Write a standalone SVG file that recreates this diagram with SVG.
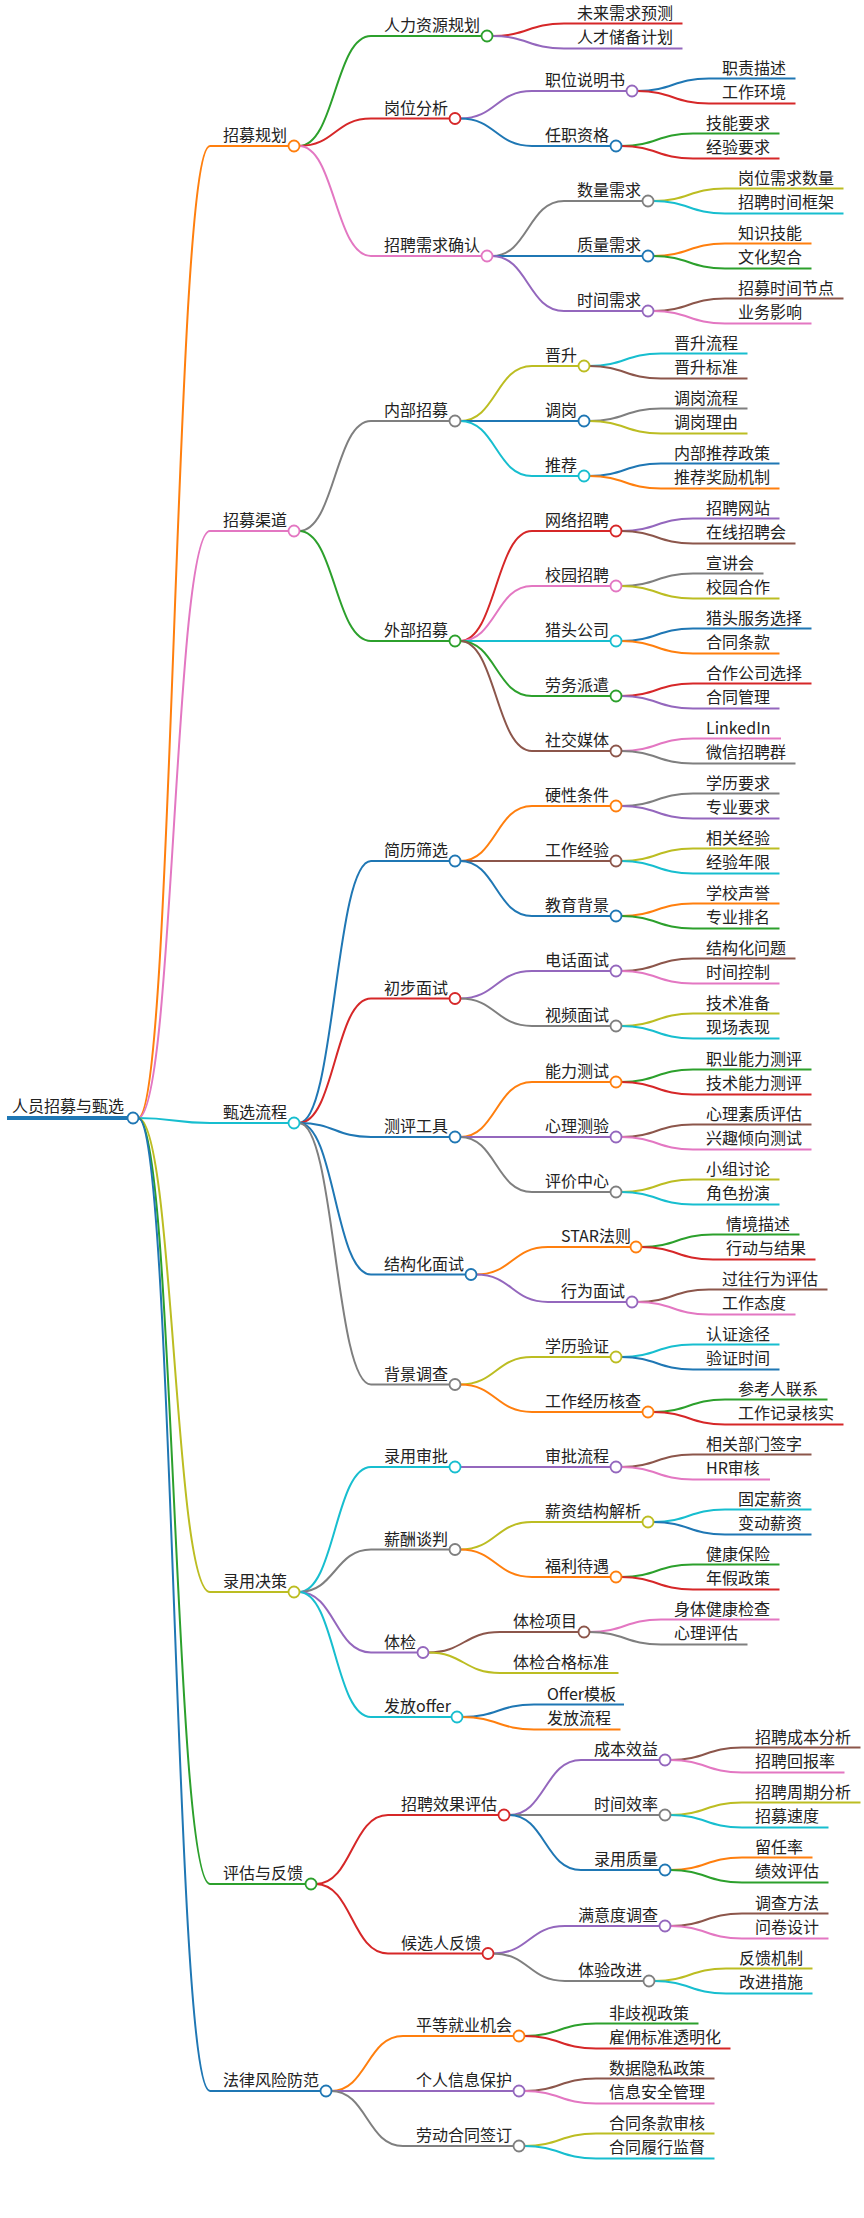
<svg xmlns="http://www.w3.org/2000/svg" width="864" height="2218" viewBox="0 0 864 2218">
<style>
path{fill:none;stroke-width:2}
circle{fill:#fff;stroke-width:1.8}
text{font-family:"Noto Sans CJK SC","Liberation Sans",sans-serif;font-size:16px;fill:#222}
.o{stroke:#ff7f0e}.g{stroke:#2ca02c}.r{stroke:#d62728}.p{stroke:#9467bd}.b{stroke:#8c564b}.k{stroke:#e377c2}.y{stroke:#7f7f7f}.l{stroke:#bcbd22}.c{stroke:#17becf}.u{stroke:#1f77b4}
</style>
<rect width="864" height="2218" fill="#fff"/>
<g id="connectors">
<path class="u" d="M7 1118H127" style="stroke-width:4"/>
<path class="o" d="M138 1118C174 1118 174 146 210 146H288"/>
<path class="k" d="M138 1118C174 1118 174 531 210 531H288"/>
<path class="c" d="M138 1118C174 1118 174 1123 210 1123H288"/>
<path class="l" d="M138 1118C174 1118 174 1592 210 1592H288"/>
<path class="g" d="M138 1118C174 1118 174 1884 210 1884H305"/>
<path class="u" d="M138 1118C174 1118 174 2091 210 2091H320"/>
<path class="g" d="M299 146C335 146 335 36 371 36H481"/>
<path class="r" d="M299 146C335 146 335 118.5 371 118.5H449"/>
<path class="k" d="M299 146C335 146 335 256 371 256H481"/>
<path class="r" d="M492 36C528 36 528 23.6 564 23.6H682.5"/>
<path class="p" d="M492 36C528 36 528 48.4 564 48.4H682.5"/>
<path class="p" d="M460 118.5C496 118.5 496 91 532 91H626"/>
<path class="u" d="M460 118.5C496 118.5 496 146 532 146H610"/>
<path class="u" d="M637 91C673 91 673 78.6 709 78.6H795.5"/>
<path class="r" d="M637 91C673 91 673 103.4 709 103.4H795.5"/>
<path class="g" d="M621 146C657 146 657 133.6 693 133.6H779.5"/>
<path class="r" d="M621 146C657 146 657 158.4 693 158.4H779.5"/>
<path class="y" d="M492 256C528 256 528 201 564 201H642"/>
<path class="u" d="M492 256C528 256 528 256 564 256H642"/>
<path class="p" d="M492 256C528 256 528 311 564 311H642"/>
<path class="l" d="M653 201C689 201 689 188.6 725 188.6H843.5"/>
<path class="c" d="M653 201C689 201 689 213.4 725 213.4H843.5"/>
<path class="o" d="M653 256C689 256 689 243.6 725 243.6H811.5"/>
<path class="g" d="M653 256C689 256 689 268.4 725 268.4H811.5"/>
<path class="b" d="M653 311C689 311 689 298.6 725 298.6H843.5"/>
<path class="k" d="M653 311C689 311 689 323.4 725 323.4H811.5"/>
<path class="y" d="M299 531C335 531 335 421 371 421H449"/>
<path class="g" d="M299 531C335 531 335 641 371 641H449"/>
<path class="l" d="M460 421C496 421 496 366 532 366H578"/>
<path class="u" d="M460 421C496 421 496 421 532 421H578"/>
<path class="c" d="M460 421C496 421 496 476 532 476H578"/>
<path class="c" d="M589 366C625 366 625 353.6 661 353.6H747.5"/>
<path class="b" d="M589 366C625 366 625 378.4 661 378.4H747.5"/>
<path class="y" d="M589 421C625 421 625 408.6 661 408.6H747.5"/>
<path class="l" d="M589 421C625 421 625 433.4 661 433.4H747.5"/>
<path class="u" d="M589 476C625 476 625 463.6 661 463.6H779.5"/>
<path class="o" d="M589 476C625 476 625 488.4 661 488.4H779.5"/>
<path class="r" d="M460 641C496 641 496 531 532 531H610"/>
<path class="k" d="M460 641C496 641 496 586 532 586H610"/>
<path class="c" d="M460 641C496 641 496 641 532 641H610"/>
<path class="g" d="M460 641C496 641 496 696 532 696H610"/>
<path class="b" d="M460 641C496 641 496 751 532 751H610"/>
<path class="p" d="M621 531C657 531 657 518.6 693 518.6H779.5"/>
<path class="b" d="M621 531C657 531 657 543.4 693 543.4H795.5"/>
<path class="y" d="M621 586C657 586 657 573.6 693 573.6H763.5"/>
<path class="l" d="M621 586C657 586 657 598.4 693 598.4H779.5"/>
<path class="u" d="M621 641C657 641 657 628.6 693 628.6H811.5"/>
<path class="o" d="M621 641C657 641 657 653.4 693 653.4H779.5"/>
<path class="r" d="M621 696C657 696 657 683.6 693 683.6H811.5"/>
<path class="p" d="M621 696C657 696 657 708.4 693 708.4H779.5"/>
<path class="k" d="M621 751C657 751 657 738.6 693 738.6H781"/>
<path class="y" d="M621 751C657 751 657 763.4 693 763.4H795.5"/>
<path class="u" d="M299 1123C335 1123 335 861 371 861H449"/>
<path class="r" d="M299 1123C335 1123 335 998.5 371 998.5H449"/>
<path class="u" d="M299 1123C335 1123 335 1137 371 1137H449"/>
<path class="u" d="M299 1123C335 1123 335 1274.5 371 1274.5H465"/>
<path class="y" d="M299 1123C335 1123 335 1384.5 371 1384.5H449"/>
<path class="o" d="M460 861C496 861 496 806 532 806H610"/>
<path class="b" d="M460 861C496 861 496 861 532 861H610"/>
<path class="u" d="M460 861C496 861 496 916 532 916H610"/>
<path class="y" d="M621 806C657 806 657 793.6 693 793.6H779.5"/>
<path class="p" d="M621 806C657 806 657 818.4 693 818.4H779.5"/>
<path class="l" d="M621 861C657 861 657 848.6 693 848.6H779.5"/>
<path class="c" d="M621 861C657 861 657 873.4 693 873.4H779.5"/>
<path class="o" d="M621 916C657 916 657 903.6 693 903.6H779.5"/>
<path class="g" d="M621 916C657 916 657 928.4 693 928.4H779.5"/>
<path class="p" d="M460 998.5C496 998.5 496 971 532 971H610"/>
<path class="y" d="M460 998.5C496 998.5 496 1026 532 1026H610"/>
<path class="b" d="M621 971C657 971 657 958.6 693 958.6H795.5"/>
<path class="k" d="M621 971C657 971 657 983.4 693 983.4H779.5"/>
<path class="l" d="M621 1026C657 1026 657 1013.6 693 1013.6H779.5"/>
<path class="c" d="M621 1026C657 1026 657 1038.4 693 1038.4H779.5"/>
<path class="o" d="M460 1137C496 1137 496 1082 532 1082H610"/>
<path class="p" d="M460 1137C496 1137 496 1137 532 1137H610"/>
<path class="y" d="M460 1137C496 1137 496 1192 532 1192H610"/>
<path class="g" d="M621 1082C657 1082 657 1069.6 693 1069.6H811.5"/>
<path class="r" d="M621 1082C657 1082 657 1094.4 693 1094.4H811.5"/>
<path class="b" d="M621 1137C657 1137 657 1124.6 693 1124.6H811.5"/>
<path class="k" d="M621 1137C657 1137 657 1149.4 693 1149.4H811.5"/>
<path class="l" d="M621 1192C657 1192 657 1179.6 693 1179.6H779.5"/>
<path class="c" d="M621 1192C657 1192 657 1204.4 693 1204.4H779.5"/>
<path class="o" d="M476 1274.5C512 1274.5 512 1247 548 1247H630"/>
<path class="p" d="M476 1274.5C512 1274.5 512 1302 548 1302H626"/>
<path class="g" d="M641 1247C677 1247 677 1234.6 713 1234.6H799.5"/>
<path class="r" d="M641 1247C677 1247 677 1259.4 713 1259.4H815.5"/>
<path class="b" d="M637 1302C673 1302 673 1289.6 709 1289.6H827.5"/>
<path class="k" d="M637 1302C673 1302 673 1314.4 709 1314.4H795.5"/>
<path class="l" d="M460 1384.5C496 1384.5 496 1357 532 1357H610"/>
<path class="o" d="M460 1384.5C496 1384.5 496 1412 532 1412H642"/>
<path class="c" d="M621 1357C657 1357 657 1344.6 693 1344.6H779.5"/>
<path class="u" d="M621 1357C657 1357 657 1369.4 693 1369.4H779.5"/>
<path class="g" d="M653 1412C689 1412 689 1399.6 725 1399.6H827.5"/>
<path class="r" d="M653 1412C689 1412 689 1424.4 725 1424.4H843.5"/>
<path class="c" d="M299 1592C335 1592 335 1467 371 1467H449"/>
<path class="y" d="M299 1592C335 1592 335 1549.5 371 1549.5H449"/>
<path class="p" d="M299 1592C335 1592 335 1652.5 371 1652.5H417"/>
<path class="c" d="M299 1592C335 1592 335 1717 371 1717H451"/>
<path class="p" d="M460 1467C496 1467 496 1467 532 1467H610"/>
<path class="b" d="M621 1467C657 1467 657 1454.6 693 1454.6H811.5"/>
<path class="k" d="M621 1467C657 1467 657 1479.4 693 1479.4H770"/>
<path class="l" d="M460 1549.5C496 1549.5 496 1522 532 1522H642"/>
<path class="o" d="M460 1549.5C496 1549.5 496 1577 532 1577H610"/>
<path class="c" d="M653 1522C689 1522 689 1509.6 725 1509.6H811.5"/>
<path class="u" d="M653 1522C689 1522 689 1534.4 725 1534.4H811.5"/>
<path class="g" d="M621 1577C657 1577 657 1564.6 693 1564.6H779.5"/>
<path class="r" d="M621 1577C657 1577 657 1589.4 693 1589.4H779.5"/>
<path class="b" d="M428 1652.5C464 1652.5 464 1632 500 1632H578"/>
<path class="l" d="M428 1652.5C464 1652.5 464 1673 500 1673H618.5"/>
<path class="k" d="M589 1632C625 1632 625 1619.6 661 1619.6H779.5"/>
<path class="y" d="M589 1632C625 1632 625 1644.4 661 1644.4H747.5"/>
<path class="u" d="M462 1717C498 1717 498 1704.6 534 1704.6H624"/>
<path class="o" d="M462 1717C498 1717 498 1729.4 534 1729.4H620.5"/>
<path class="r" d="M316 1884C352 1884 352 1815 388 1815H498"/>
<path class="r" d="M316 1884C352 1884 352 1953.5 388 1953.5H482"/>
<path class="p" d="M509 1815C545 1815 545 1760 581 1760H659"/>
<path class="y" d="M509 1815C545 1815 545 1815 581 1815H659"/>
<path class="u" d="M509 1815C545 1815 545 1870 581 1870H659"/>
<path class="b" d="M670 1760C706 1760 706 1747.6 742 1747.6H860.5"/>
<path class="k" d="M670 1760C706 1760 706 1772.4 742 1772.4H844.5"/>
<path class="l" d="M670 1815C706 1815 706 1802.6 742 1802.6H860.5"/>
<path class="c" d="M670 1815C706 1815 706 1827.4 742 1827.4H828.5"/>
<path class="o" d="M670 1870C706 1870 706 1857.6 742 1857.6H812.5"/>
<path class="g" d="M670 1870C706 1870 706 1882.4 742 1882.4H828.5"/>
<path class="p" d="M493 1953.5C529 1953.5 529 1926 565 1926H659"/>
<path class="y" d="M493 1953.5C529 1953.5 529 1981 565 1981H643"/>
<path class="b" d="M670 1926C706 1926 706 1913.6 742 1913.6H828.5"/>
<path class="k" d="M670 1926C706 1926 706 1938.4 742 1938.4H828.5"/>
<path class="l" d="M654 1981C690 1981 690 1968.6 726 1968.6H812.5"/>
<path class="c" d="M654 1981C690 1981 690 1993.4 726 1993.4H812.5"/>
<path class="o" d="M331 2091C367 2091 367 2036 403 2036H513"/>
<path class="p" d="M331 2091C367 2091 367 2091 403 2091H513"/>
<path class="y" d="M331 2091C367 2091 367 2146 403 2146H513"/>
<path class="g" d="M524 2036C560 2036 560 2023.6 596 2023.6H698.5"/>
<path class="r" d="M524 2036C560 2036 560 2048.4 596 2048.4H730.5"/>
<path class="b" d="M524 2091C560 2091 560 2078.6 596 2078.6H714.5"/>
<path class="k" d="M524 2091C560 2091 560 2103.4 596 2103.4H714.5"/>
<path class="l" d="M524 2146C560 2146 560 2133.6 596 2133.6H714.5"/>
<path class="c" d="M524 2146C560 2146 560 2158.4 596 2158.4H714.5"/>
</g>
<g id="n-root"><text x="12" y="1112">人员招募与甄选</text><circle class="u" cx="133" cy="1118" r="5.5"/></g>
<g id="n-A"><text x="223" y="141">招募规划</text><circle class="o" cx="294" cy="146" r="5.5"/></g>
<g id="n-A1"><text x="384" y="31">人力资源规划</text><circle class="g" cx="487" cy="36" r="5.5"/></g>
<g id="n-A1a"><text x="577" y="18.6">未来需求预测</text></g>
<g id="n-A1b"><text x="577" y="43.4">人才储备计划</text></g>
<g id="n-A2"><text x="384" y="113.5">岗位分析</text><circle class="r" cx="455" cy="118.5" r="5.5"/></g>
<g id="n-A2a"><text x="545" y="86">职位说明书</text><circle class="p" cx="632" cy="91" r="5.5"/></g>
<g id="n-A2a1"><text x="722" y="73.6">职责描述</text></g>
<g id="n-A2a2"><text x="722" y="98.4">工作环境</text></g>
<g id="n-A2b"><text x="545" y="141">任职资格</text><circle class="u" cx="616" cy="146" r="5.5"/></g>
<g id="n-A2b1"><text x="706" y="128.6">技能要求</text></g>
<g id="n-A2b2"><text x="706" y="153.4">经验要求</text></g>
<g id="n-A3"><text x="384" y="251">招聘需求确认</text><circle class="k" cx="487" cy="256" r="5.5"/></g>
<g id="n-A3a"><text x="577" y="196">数量需求</text><circle class="y" cx="648" cy="201" r="5.5"/></g>
<g id="n-A3a1"><text x="738" y="183.6">岗位需求数量</text></g>
<g id="n-A3a2"><text x="738" y="208.4">招聘时间框架</text></g>
<g id="n-A3b"><text x="577" y="251">质量需求</text><circle class="u" cx="648" cy="256" r="5.5"/></g>
<g id="n-A3b1"><text x="738" y="238.6">知识技能</text></g>
<g id="n-A3b2"><text x="738" y="263.4">文化契合</text></g>
<g id="n-A3c"><text x="577" y="306">时间需求</text><circle class="p" cx="648" cy="311" r="5.5"/></g>
<g id="n-A3c1"><text x="738" y="293.6">招募时间节点</text></g>
<g id="n-A3c2"><text x="738" y="318.4">业务影响</text></g>
<g id="n-B"><text x="223" y="526">招募渠道</text><circle class="k" cx="294" cy="531" r="5.5"/></g>
<g id="n-B1"><text x="384" y="416">内部招募</text><circle class="y" cx="455" cy="421" r="5.5"/></g>
<g id="n-B1a"><text x="545" y="361">晋升</text><circle class="l" cx="584" cy="366" r="5.5"/></g>
<g id="n-B1a1"><text x="674" y="348.6">晋升流程</text></g>
<g id="n-B1a2"><text x="674" y="373.4">晋升标准</text></g>
<g id="n-B1b"><text x="545" y="416">调岗</text><circle class="u" cx="584" cy="421" r="5.5"/></g>
<g id="n-B1b1"><text x="674" y="403.6">调岗流程</text></g>
<g id="n-B1b2"><text x="674" y="428.4">调岗理由</text></g>
<g id="n-B1c"><text x="545" y="471">推荐</text><circle class="c" cx="584" cy="476" r="5.5"/></g>
<g id="n-B1c1"><text x="674" y="458.6">内部推荐政策</text></g>
<g id="n-B1c2"><text x="674" y="483.4">推荐奖励机制</text></g>
<g id="n-B2"><text x="384" y="636">外部招募</text><circle class="g" cx="455" cy="641" r="5.5"/></g>
<g id="n-B2a"><text x="545" y="526">网络招聘</text><circle class="r" cx="616" cy="531" r="5.5"/></g>
<g id="n-B2a1"><text x="706" y="513.6">招聘网站</text></g>
<g id="n-B2a2"><text x="706" y="538.4">在线招聘会</text></g>
<g id="n-B2b"><text x="545" y="581">校园招聘</text><circle class="k" cx="616" cy="586" r="5.5"/></g>
<g id="n-B2b1"><text x="706" y="568.6">宣讲会</text></g>
<g id="n-B2b2"><text x="706" y="593.4">校园合作</text></g>
<g id="n-B2c"><text x="545" y="636">猎头公司</text><circle class="c" cx="616" cy="641" r="5.5"/></g>
<g id="n-B2c1"><text x="706" y="623.6">猎头服务选择</text></g>
<g id="n-B2c2"><text x="706" y="648.4">合同条款</text></g>
<g id="n-B2d"><text x="545" y="691">劳务派遣</text><circle class="g" cx="616" cy="696" r="5.5"/></g>
<g id="n-B2d1"><text x="706" y="678.6">合作公司选择</text></g>
<g id="n-B2d2"><text x="706" y="703.4">合同管理</text></g>
<g id="n-B2e"><text x="545" y="746">社交媒体</text><circle class="b" cx="616" cy="751" r="5.5"/></g>
<g id="n-B2e1"><text x="706" y="733.6">LinkedIn</text></g>
<g id="n-B2e2"><text x="706" y="758.4">微信招聘群</text></g>
<g id="n-C"><text x="223" y="1118">甄选流程</text><circle class="c" cx="294" cy="1123" r="5.5"/></g>
<g id="n-C1"><text x="384" y="856">简历筛选</text><circle class="u" cx="455" cy="861" r="5.5"/></g>
<g id="n-C1a"><text x="545" y="801">硬性条件</text><circle class="o" cx="616" cy="806" r="5.5"/></g>
<g id="n-C1a1"><text x="706" y="788.6">学历要求</text></g>
<g id="n-C1a2"><text x="706" y="813.4">专业要求</text></g>
<g id="n-C1b"><text x="545" y="856">工作经验</text><circle class="b" cx="616" cy="861" r="5.5"/></g>
<g id="n-C1b1"><text x="706" y="843.6">相关经验</text></g>
<g id="n-C1b2"><text x="706" y="868.4">经验年限</text></g>
<g id="n-C1c"><text x="545" y="911">教育背景</text><circle class="u" cx="616" cy="916" r="5.5"/></g>
<g id="n-C1c1"><text x="706" y="898.6">学校声誉</text></g>
<g id="n-C1c2"><text x="706" y="923.4">专业排名</text></g>
<g id="n-C2"><text x="384" y="993.5">初步面试</text><circle class="r" cx="455" cy="998.5" r="5.5"/></g>
<g id="n-C2a"><text x="545" y="966">电话面试</text><circle class="p" cx="616" cy="971" r="5.5"/></g>
<g id="n-C2a1"><text x="706" y="953.6">结构化问题</text></g>
<g id="n-C2a2"><text x="706" y="978.4">时间控制</text></g>
<g id="n-C2b"><text x="545" y="1021">视频面试</text><circle class="y" cx="616" cy="1026" r="5.5"/></g>
<g id="n-C2b1"><text x="706" y="1008.6">技术准备</text></g>
<g id="n-C2b2"><text x="706" y="1033.4">现场表现</text></g>
<g id="n-C3"><text x="384" y="1132">测评工具</text><circle class="u" cx="455" cy="1137" r="5.5"/></g>
<g id="n-C3a"><text x="545" y="1077">能力测试</text><circle class="o" cx="616" cy="1082" r="5.5"/></g>
<g id="n-C3a1"><text x="706" y="1064.6">职业能力测评</text></g>
<g id="n-C3a2"><text x="706" y="1089.4">技术能力测评</text></g>
<g id="n-C3b"><text x="545" y="1132">心理测验</text><circle class="p" cx="616" cy="1137" r="5.5"/></g>
<g id="n-C3b1"><text x="706" y="1119.6">心理素质评估</text></g>
<g id="n-C3b2"><text x="706" y="1144.4">兴趣倾向测试</text></g>
<g id="n-C3c"><text x="545" y="1187">评价中心</text><circle class="y" cx="616" cy="1192" r="5.5"/></g>
<g id="n-C3c1"><text x="706" y="1174.6">小组讨论</text></g>
<g id="n-C3c2"><text x="706" y="1199.4">角色扮演</text></g>
<g id="n-C4"><text x="384" y="1269.5">结构化面试</text><circle class="u" cx="471" cy="1274.5" r="5.5"/></g>
<g id="n-C4a"><text x="561" y="1242">STAR法则</text><circle class="o" cx="636" cy="1247" r="5.5"/></g>
<g id="n-C4a1"><text x="726" y="1229.6">情境描述</text></g>
<g id="n-C4a2"><text x="726" y="1254.4">行动与结果</text></g>
<g id="n-C4b"><text x="561" y="1297">行为面试</text><circle class="p" cx="632" cy="1302" r="5.5"/></g>
<g id="n-C4b1"><text x="722" y="1284.6">过往行为评估</text></g>
<g id="n-C4b2"><text x="722" y="1309.4">工作态度</text></g>
<g id="n-C5"><text x="384" y="1379.5">背景调查</text><circle class="y" cx="455" cy="1384.5" r="5.5"/></g>
<g id="n-C5a"><text x="545" y="1352">学历验证</text><circle class="l" cx="616" cy="1357" r="5.5"/></g>
<g id="n-C5a1"><text x="706" y="1339.6">认证途径</text></g>
<g id="n-C5a2"><text x="706" y="1364.4">验证时间</text></g>
<g id="n-C5b"><text x="545" y="1407">工作经历核查</text><circle class="o" cx="648" cy="1412" r="5.5"/></g>
<g id="n-C5b1"><text x="738" y="1394.6">参考人联系</text></g>
<g id="n-C5b2"><text x="738" y="1419.4">工作记录核实</text></g>
<g id="n-D"><text x="223" y="1587">录用决策</text><circle class="l" cx="294" cy="1592" r="5.5"/></g>
<g id="n-D1"><text x="384" y="1462">录用审批</text><circle class="c" cx="455" cy="1467" r="5.5"/></g>
<g id="n-D1a"><text x="545" y="1462">审批流程</text><circle class="p" cx="616" cy="1467" r="5.5"/></g>
<g id="n-D1a1"><text x="706" y="1449.6">相关部门签字</text></g>
<g id="n-D1a2"><text x="706" y="1474.4">HR审核</text></g>
<g id="n-D2"><text x="384" y="1544.5">薪酬谈判</text><circle class="y" cx="455" cy="1549.5" r="5.5"/></g>
<g id="n-D2a"><text x="545" y="1517">薪资结构解析</text><circle class="l" cx="648" cy="1522" r="5.5"/></g>
<g id="n-D2a1"><text x="738" y="1504.6">固定薪资</text></g>
<g id="n-D2a2"><text x="738" y="1529.4">变动薪资</text></g>
<g id="n-D2b"><text x="545" y="1572">福利待遇</text><circle class="o" cx="616" cy="1577" r="5.5"/></g>
<g id="n-D2b1"><text x="706" y="1559.6">健康保险</text></g>
<g id="n-D2b2"><text x="706" y="1584.4">年假政策</text></g>
<g id="n-D3"><text x="384" y="1647.5">体检</text><circle class="p" cx="423" cy="1652.5" r="5.5"/></g>
<g id="n-D3a"><text x="513" y="1627">体检项目</text><circle class="b" cx="584" cy="1632" r="5.5"/></g>
<g id="n-D3a1"><text x="674" y="1614.6">身体健康检查</text></g>
<g id="n-D3a2"><text x="674" y="1639.4">心理评估</text></g>
<g id="n-D3b"><text x="513" y="1668">体检合格标准</text></g>
<g id="n-D4"><text x="384" y="1712">发放offer</text><circle class="c" cx="457" cy="1717" r="5.5"/></g>
<g id="n-D4a"><text x="547" y="1699.6">Offer模板</text></g>
<g id="n-D4b"><text x="547" y="1724.4">发放流程</text></g>
<g id="n-E"><text x="223" y="1879">评估与反馈</text><circle class="g" cx="311" cy="1884" r="5.5"/></g>
<g id="n-E1"><text x="401" y="1810">招聘效果评估</text><circle class="r" cx="504" cy="1815" r="5.5"/></g>
<g id="n-E1a"><text x="594" y="1755">成本效益</text><circle class="p" cx="665" cy="1760" r="5.5"/></g>
<g id="n-E1a1"><text x="755" y="1742.6">招聘成本分析</text></g>
<g id="n-E1a2"><text x="755" y="1767.4">招聘回报率</text></g>
<g id="n-E1b"><text x="594" y="1810">时间效率</text><circle class="y" cx="665" cy="1815" r="5.5"/></g>
<g id="n-E1b1"><text x="755" y="1797.6">招聘周期分析</text></g>
<g id="n-E1b2"><text x="755" y="1822.4">招募速度</text></g>
<g id="n-E1c"><text x="594" y="1865">录用质量</text><circle class="u" cx="665" cy="1870" r="5.5"/></g>
<g id="n-E1c1"><text x="755" y="1852.6">留任率</text></g>
<g id="n-E1c2"><text x="755" y="1877.4">绩效评估</text></g>
<g id="n-E2"><text x="401" y="1948.5">候选人反馈</text><circle class="r" cx="488" cy="1953.5" r="5.5"/></g>
<g id="n-E2a"><text x="578" y="1921">满意度调查</text><circle class="p" cx="665" cy="1926" r="5.5"/></g>
<g id="n-E2a1"><text x="755" y="1908.6">调查方法</text></g>
<g id="n-E2a2"><text x="755" y="1933.4">问卷设计</text></g>
<g id="n-E2b"><text x="578" y="1976">体验改进</text><circle class="y" cx="649" cy="1981" r="5.5"/></g>
<g id="n-E2b1"><text x="739" y="1963.6">反馈机制</text></g>
<g id="n-E2b2"><text x="739" y="1988.4">改进措施</text></g>
<g id="n-F"><text x="223" y="2086">法律风险防范</text><circle class="u" cx="326" cy="2091" r="5.5"/></g>
<g id="n-F1"><text x="416" y="2031">平等就业机会</text><circle class="o" cx="519" cy="2036" r="5.5"/></g>
<g id="n-F1a"><text x="609" y="2018.6">非歧视政策</text></g>
<g id="n-F1b"><text x="609" y="2043.4">雇佣标准透明化</text></g>
<g id="n-F2"><text x="416" y="2086">个人信息保护</text><circle class="p" cx="519" cy="2091" r="5.5"/></g>
<g id="n-F2a"><text x="609" y="2073.6">数据隐私政策</text></g>
<g id="n-F2b"><text x="609" y="2098.4">信息安全管理</text></g>
<g id="n-F3"><text x="416" y="2141">劳动合同签订</text><circle class="y" cx="519" cy="2146" r="5.5"/></g>
<g id="n-F3a"><text x="609" y="2128.6">合同条款审核</text></g>
<g id="n-F3b"><text x="609" y="2153.4">合同履行监督</text></g>
</svg>
